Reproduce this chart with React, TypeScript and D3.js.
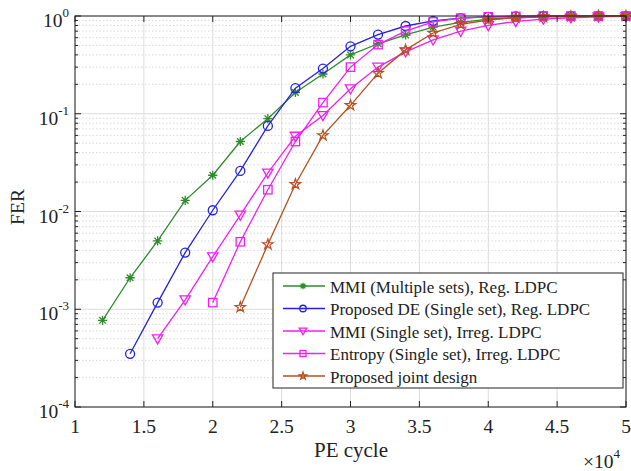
import React from 'react';
import * as d3 from 'd3';

// PE cycle values in units of 10^4
const peGreen = [1.2, 1.4, 1.6, 1.8, 2.0, 2.2, 2.4, 2.6, 2.8, 3.0, 3.2, 3.4, 3.6, 3.8, 4.0, 4.2, 4.4, 4.6, 4.8, 5.0];
const ferGreen = [7.7e-4, 2.1e-3, 5.0e-3, 1.3e-2, 2.35e-2, 5.2e-2, 8.9e-2, 0.165, 0.255, 0.40, 0.52, 0.64, 0.77, 0.86, 0.93, 0.96, 0.98, 0.99, 1.0, 1.0];

const peBlue = [1.4, 1.6, 1.8, 2.0, 2.2, 2.4, 2.6, 2.8, 3.0, 3.2, 3.4, 3.6, 3.8, 4.0, 4.2, 4.4, 4.6, 4.8, 5.0];
const ferBlue = [3.5e-4, 1.17e-3, 3.8e-3, 1.03e-2, 0.026, 0.075, 0.183, 0.29, 0.49, 0.645, 0.79, 0.89, 0.95, 0.98, 0.99, 1.0, 1.0, 1.0, 1.0];

const peTri = [1.6, 1.8, 2.0, 2.2, 2.4, 2.6, 2.8, 3.0, 3.2, 3.4, 3.6, 3.8, 4.0, 4.2, 4.4, 4.6, 4.8, 5.0];
const ferTri = [5.0e-4, 1.25e-3, 3.45e-3, 9.2e-3, 0.0248, 0.059, 0.096, 0.18, 0.30, 0.43, 0.57, 0.70, 0.80, 0.88, 0.93, 0.96, 0.98, 0.99];

const peSq = [2.0, 2.2, 2.4, 2.6, 2.8, 3.0, 3.2, 3.4, 3.6, 3.8, 4.0, 4.2, 4.4, 4.6, 4.8, 5.0];
const ferSq = [1.17e-3, 4.9e-3, 0.0167, 0.052, 0.13, 0.30, 0.51, 0.70, 0.87, 0.95, 0.98, 0.99, 1.0, 1.0, 1.0, 1.0];

const peStar = [2.2, 2.4, 2.6, 2.8, 3.0, 3.2, 3.4, 3.6, 3.8, 4.0, 4.2, 4.4, 4.6, 4.8, 5.0];
const ferStar = [1.05e-3, 4.6e-3, 0.019, 0.06, 0.122, 0.26, 0.45, 0.67, 0.82, 0.91, 0.96, 0.98, 0.99, 1.0, 1.0];

const seriesNames = [
  'MMI (Multiple sets), Reg. LDPC',
  'Proposed DE (Single set), Reg. LDPC',
  'MMI (Single set), Irreg. LDPC',
  'Entropy (Single set), Irreg. LDPC',
  'Proposed joint design',
];
const seriesColors = ['#2e8b2e', '#2323dd', '#f020f0', '#f020f0', '#b4501e'];
const seriesMarkers = ['asterisk', 'circle', 'triangle', 'square', 'star'];

const xTicks = [1, 1.5, 2, 2.5, 3, 3.5, 4, 4.5, 5];
const xTickLabels = ['1', '1.5', '2', '2.5', '3', '3.5', '4', '4.5', '5'];
const yExponents = [0, -1, -2, -3, -4];

const W = 631, H = 471;
const L = 75, R = 626, T = 16, B = 407;
const FONT = '"Liberation Serif", "Times New Roman", serif';

function Marker({ type, x, y, color, s = 1 }: { type: string; x: number; y: number; color: string; s?: number }) {
  if (type === 'asterisk') {
    const r = 4.6 * s, d = r * 0.72;
    return (
      <path d={`M${x - r},${y}L${x + r},${y}M${x},${y - r}L${x},${y + r}M${x - d},${y - d}L${x + d},${y + d}M${x - d},${y + d}L${x + d},${y - d}`}
        stroke={color} strokeWidth={1.3} fill="none" />
    );
  }
  if (type === 'circle') {
    return <circle cx={x} cy={y} r={4.5 * s} stroke={color} strokeWidth={1.3} fill="none" />;
  }
  if (type === 'triangle') {
    const r = 5.2 * s;
    return <path d={`M${x - r},${y - r * 0.75}L${x + r},${y - r * 0.75}L${x},${y + r}Z`} stroke={color} strokeWidth={1.3} fill="none" />;
  }
  if (type === 'square') {
    const r = 4.2 * s;
    return <rect x={x - r} y={y - r} width={2 * r} height={2 * r} stroke={color} strokeWidth={1.3} fill="none" />;
  }
  const star = d3.symbol().type(d3.symbolStar).size(34 * s * s)();
  return <path d={star || ''} transform={`translate(${x},${y})`} stroke={color} strokeWidth={1.2} fill="none" />;
}

export default function App() {
  const x = d3.scaleLinear().domain([1, 5]).range([L, R]);
  const y = d3.scaleLog().domain([1e-4, 1]).range([B, T]);

  const series = [
    { xs: peGreen, ys: ferGreen },
    { xs: peBlue, ys: ferBlue },
    { xs: peTri, ys: ferTri },
    { xs: peSq, ys: ferSq },
    { xs: peStar, ys: ferStar },
  ];

  const line = d3.line<[number, number]>().x(d => x(d[0])).y(d => y(d[1]));

  const minorTicks: number[] = [];
  for (let e = -4; e < 0; e++) {
    for (let m = 2; m <= 9; m++) minorTicks.push(m * Math.pow(10, e));
  }

  const lgX = 273, lgY = 273, lgW = 350, lgH = 115, lgRow = 22.5;

  return (
    <svg width={W} height={H} style={{ display: 'block', position: 'absolute', left: 0, top: 0, background: '#fff' }}>
      <rect x={0} y={0} width={W} height={H} fill="#fff" />
      {/* grid */}
      {minorTicks.map((t, i) => (
        <line key={'mg' + i} x1={L} x2={R} y1={y(t)} y2={y(t)} stroke="#d0d0d0" strokeWidth={0.8} strokeDasharray="1.5,2" />
      ))}
      {yExponents.map(e => (
        <line key={'yg' + e} x1={L} x2={R} y1={y(Math.pow(10, e))} y2={y(Math.pow(10, e))} stroke="#dcdcdc" strokeWidth={1} />
      ))}
      {xTicks.map(t => (
        <line key={'xg' + t} x1={x(t)} x2={x(t)} y1={T} y2={B} stroke="#dcdcdc" strokeWidth={1} />
      ))}

      {/* series */}
      {series.map((s, i) => {
        const pts = s.xs.map((v, j) => [v, s.ys[j]] as [number, number]);
        return (
          <g key={'s' + i}>
            <path d={line(pts) || ''} stroke={seriesColors[i]} strokeWidth={1.3} fill="none" />
            {pts.map((p, j) => (
              <Marker key={j} type={seriesMarkers[i]} x={x(p[0])} y={y(p[1])} color={seriesColors[i]} />
            ))}
          </g>
        );
      })}

      {/* axes box */}
      <rect x={L} y={T} width={R - L} height={B - T} fill="none" stroke="#222" strokeWidth={1} />
      {xTicks.map(t => (
        <g key={'xt' + t}>
          <line x1={x(t)} x2={x(t)} y1={B} y2={B - 6} stroke="#222" />
          <line x1={x(t)} x2={x(t)} y1={T} y2={T + 6} stroke="#222" />
        </g>
      ))}
      {yExponents.map(e => (
        <g key={'yt' + e}>
          <line x1={L} x2={L + 6} y1={y(Math.pow(10, e))} y2={y(Math.pow(10, e))} stroke="#222" />
          <line x1={R} x2={R - 6} y1={y(Math.pow(10, e))} y2={y(Math.pow(10, e))} stroke="#222" />
        </g>
      ))}
      {minorTicks.map((t, i) => (
        <g key={'ym' + i}>
          <line x1={L} x2={L + 3} y1={y(t)} y2={y(t)} stroke="#222" />
          <line x1={R} x2={R - 3} y1={y(t)} y2={y(t)} stroke="#222" />
        </g>
      ))}

      {/* tick labels */}
      {xTicks.map((t, i) => (
        <text key={'xl' + t} x={x(t)} y={B + 26} textAnchor="middle" fontFamily={FONT} fontSize={19.5} fill="#222">{xTickLabels[i]}</text>
      ))}
      {yExponents.map(e => (
        <text key={'yl' + e} x={69} y={y(Math.pow(10, e)) + 11} textAnchor="end" fontFamily={FONT} fontSize={19.5} fill="#222">
          10<tspan dy={-10} fontSize={13}>{String(e)}</tspan>
        </text>
      ))}

      {/* axis labels */}
      <text x={351} y={457} textAnchor="middle" fontFamily={FONT} fontSize={21} fill="#222">PE cycle</text>
      <text x={583} y={468} textAnchor="start" fontFamily={FONT} fontSize={19.5} fill="#222">
        ×10<tspan dy={-10} fontSize={13}>4</tspan>
      </text>
      <text transform={`translate(24,207) rotate(-90)`} textAnchor="middle" fontFamily={FONT} fontSize={19.5} fill="#222">FER</text>

      {/* legend */}
      <rect x={lgX} y={lgY} width={lgW} height={lgH} fill="#fff" stroke="#222" strokeWidth={1} />
      {seriesNames.map((n, i) => {
        const cy = lgY + 13 + i * lgRow;
        return (
          <g key={'lg' + i}>
            <line x1={lgX + 10} x2={lgX + 52} y1={cy} y2={cy} stroke={seriesColors[i]} strokeWidth={1.3} />
            <Marker type={seriesMarkers[i]} x={lgX + 30} y={cy} color={seriesColors[i]} s={0.72} />
            <text x={lgX + 57} y={cy + 6.5} fontFamily={FONT} fontSize={17} fill="#222">{n}</text>
          </g>
        );
      })}
    </svg>
  );
}
